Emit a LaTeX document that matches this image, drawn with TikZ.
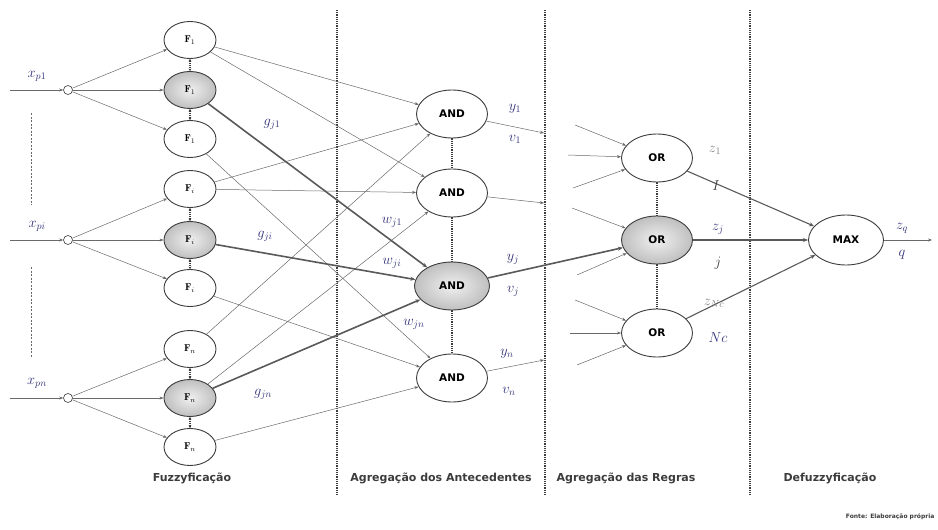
\documentclass[tikz,border=0pt]{standalone}
\usepackage{fontspec}
\newfontfamily\lblfont{DejaVu Sans}
\usetikzlibrary{shapes.geometric,arrows.meta}
\definecolor{ink}{RGB}{60,60,60}
\definecolor{edge}{RGB}{105,105,105}
\definecolor{navy}{RGB}{50,50,120}
\begin{document}
\begin{tikzpicture}[x=1pt,y=-1pt,
  nodebase/.style={ellipse,draw=ink,line width=0.9pt,fill=white,inner sep=0pt},
  fznode/.style={nodebase,minimum width=52pt,minimum height=37pt,font=\fontsize{10}{12}\selectfont},
  opnode/.style={nodebase,minimum width=71pt,minimum height=48pt,font=\lblfont\bfseries\fontsize{10.5}{12}\selectfont},
  hot/.style={inner color=gray!12,outer color=gray!50},
  incirc/.style={circle,draw=ink,line width=0.6pt,fill=white,minimum size=9pt,inner sep=0pt},
  conn/.style={draw=edge,line width=0.5pt,-{Stealth[length=4pt,width=3pt]}},
  boldconn/.style={draw=edge!85!black,line width=1.6pt,-{Stealth[length=5pt,width=4pt]}},
  midconn/.style={draw=edge!85!black,line width=1.1pt,-{Stealth[length=5pt,width=4pt]}},
  sepline/.style={draw=ink,line width=1.6pt,dash pattern=on 1.1pt off 1.1pt},
  link/.style={draw=ink,line width=1.6pt,dash pattern=on 1.1pt off 1.1pt},
  flink/.style={draw=ink,line width=1.2pt,dash pattern=on 1pt off 1pt,
    {Stealth[length=2.5pt,width=3pt]}-{Stealth[length=2.5pt,width=3pt]}},
  gap/.style={draw=edge,line width=0.6pt,dash pattern=on 2pt off 1.5pt},
  mlabel/.style={text=navy,font=\fontsize{14}{16}\selectfont},
  dlabel/.style={text=ink,font=\fontsize{14}{16}\selectfont},
  section/.style={font=\lblfont\bfseries\fontsize{11}{13}\selectfont,text=ink}
]
\useasboundingbox (0,0) rectangle (938,530);

% phase separators
\coordinate (s1t) at (337,10);  \coordinate (s1b) at (337,495);
\coordinate (s2t) at (545,10);  \coordinate (s2b) at (545,495);
\coordinate (s3t) at (750,10);  \coordinate (s3b) at (750,495);
\draw[sepline] (s1t) -- (s1b);
\draw[sepline] (s2t) -- (s2b);
\draw[sepline] (s3t) -- (s3b);

% inputs
\node[incirc] (i1) at (68,90) {};
\node[incirc] (ii) at (68,240) {};
\node[incirc] (in) at (68,398) {};
\coordinate (x1) at (10,90);
\coordinate (xi) at (10,240);
\coordinate (xn) at (10,398);
\draw[conn] (x1) -- (i1);
\draw[conn] (xi) -- (ii);
\draw[conn] (xn) -- (in);
\node[mlabel] (lx1) at (37,76) {$x_{p1}$};
\node[mlabel] (lxi) at (37,226) {$x_{pi}$};
\node[mlabel] (lxn) at (37,383) {$x_{pn}$};
\coordinate (d1t) at (31,113); \coordinate (d1b) at (31,205);
\coordinate (d2t) at (31,267); \coordinate (d2b) at (31,357);
\draw[gap] (d1t) -- (d1b);
\draw[gap] (d2t) -- (d2b);

% fuzzification layer
\node[fznode] (f1a) at (190,40) {$\mathbf{F}_{1}$};
\node[fznode,hot] (f1b) at (190,90) {$\mathbf{F}_{1}$};
\node[fznode] (f1c) at (190,139) {$\mathbf{F}_{1}$};
\node[fznode] (fia) at (190,189) {$\mathbf{F}_{i}$};
\node[fznode,hot] (fib) at (190,240) {$\mathbf{F}_{i}$};
\node[fznode] (fic) at (190,288) {$\mathbf{F}_{i}$};
\node[fznode] (fna) at (190,349) {$\mathbf{F}_{n}$};
\node[fznode,hot] (fnb) at (190,398) {$\mathbf{F}_{n}$};
\node[fznode] (fnc) at (190,447) {$\mathbf{F}_{n}$};
\foreach \s in {1,i,n}{
  \draw[conn] (i\s) -- (f\s a);
  \draw[conn] (i\s) -- (f\s b);
  \draw[conn] (i\s) -- (f\s c);
  \draw[flink] (f\s a) -- (f\s b);
  \draw[flink] (f\s b) -- (f\s c);
}

% antecedent aggregation layer
\node[opnode] (a1) at (452,114) {AND};
\node[opnode] (a2) at (452,193) {AND};
\node[opnode,hot,minimum width=75pt] (aj) at (452,286) {AND};
\node[opnode] (an) at (452,378) {AND};
\draw[link] (a1) -- (a2);
\draw[link] (a2) -- (aj);
\draw[link] (aj) -- (an);

\draw[conn] (f1a) -- (a1);
\draw[conn] (f1a) -- (a2);
\draw[conn] (f1c) -- (an);
\draw[conn] (fia) -- (a1);
\draw[conn] (fia) -- (a2);
\draw[conn] (fic) -- (an);
\draw[conn] (fna) -- (a1);
\draw[conn] (fnb) -- (a2);
\draw[conn] (fnc) -- (an);
\draw[boldconn] (f1b) -- (aj);
\draw[boldconn] (fib) -- (aj);
\draw[boldconn] (fnb) -- (aj);

\node[mlabel] (g1) at (272,124) {$g_{j1}$};
\node[mlabel] (gi) at (265,236) {$g_{ji}$};
\node[mlabel] (gn) at (263,394) {$g_{jn}$};
\node[mlabel] (w1) at (392,222) {$w_{j1}$};
\node[mlabel] (wi) at (392,263) {$w_{ji}$};
\node[mlabel] (wn) at (414,324) {$w_{jn}$};

% rule aggregation layer
\node[opnode] (o1) at (657,158) {OR};
\node[opnode,hot] (oj) at (657,240) {OR};
\node[opnode] (on) at (657,333) {OR};
\draw[link] (o1) -- (oj);
\draw[link] (oj) -- (on);

\coordinate (e1) at (544,133);
\coordinate (e2) at (544,203);
\coordinate (en) at (544,360);
\draw[conn] (a1) -- (e1);
\draw[conn] (a2) -- (e2);
\draw[conn] (an) -- (en);
\draw[boldconn] (aj) -- (oj);
\node[mlabel] (y1) at (515,109) {$y_{1}$};
\node[mlabel] (v1) at (515,139) {$v_{1}$};
\node[mlabel] (yj) at (513,259) {$y_{j}$};
\node[mlabel] (vj) at (513,291) {$v_{j}$};
\node[mlabel] (yn) at (507,354) {$y_{n}$};
\node[mlabel] (vn) at (509,391) {$v_{n}$};

% loose inputs of the OR nodes
\coordinate (p11) at (575,125);
\coordinate (p12) at (568,155);
\coordinate (p13) at (573,188);
\coordinate (pj1) at (572,208);
\coordinate (pj3) at (577,275);
\coordinate (pn1) at (575,300);
\coordinate (pn2) at (570,333);
\coordinate (pn3) at (577,365);
\draw[conn] (p11) -- (o1);
\draw[conn] (p12) -- (o1);
\draw[conn] (p13) -- (o1);
\draw[conn] (pj1) -- (oj);
\draw[conn] (pj3) -- (oj);
\draw[conn] (pn1) -- (on);
\draw[conn] (pn2) -- (on);
\draw[conn] (pn3) -- (on);

% defuzzification
\node[opnode,minimum width=75pt,minimum height=50pt] (m) at (846,240) {MAX};
\draw[midconn] (o1) -- (m);
\draw[midconn] (oj) -- (m);
\draw[midconn] (on) -- (m);
\coordinate (qo) at (932,240);
\draw[conn] (m) -- (qo);
\node[dlabel,text=gray] (z1) at (715,150) {$z_{1}$};
\node[dlabel] (c1) at (716,186) {$I$};
\node[mlabel] (zj) at (718,229) {$z_{j}$};
\node[dlabel] (cj) at (718,263) {$j$};
\node[dlabel,text=gray] (zn) at (714,303) {$z_{Nc}$};
\node[mlabel] (cn) at (718,338) {$Nc$};
\node[mlabel] (zq) at (902,228) {$z_{q}$};
\node[mlabel] (cq) at (902,255) {$q$};

% phase titles
\node[section] (t1) at (192,478) {Fuzzyficação};
\node[section] (t2) at (441,478) {Agregação dos Antecedentes};
\node[section] (t3) at (626,478) {Agregação das Regras};
\node[section] (t4) at (830,478) {Defuzzyficação};
\node[section,font=\lblfont\bfseries\fontsize{6}{7}\selectfont,anchor=east] (src) at (938,517) {Fonte: Elaboração própria};
\end{tikzpicture}
\end{document}
